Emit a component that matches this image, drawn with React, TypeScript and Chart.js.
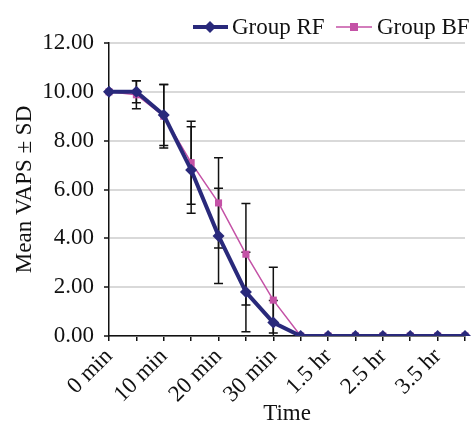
import React, { useEffect, useRef } from "react";
import { Chart, registerables } from "chart.js";

Chart.register(...registerables);

const categories = ["0 min", "5 min", "10 min", "15 min", "20 min", "25 min", "30 min", "1 hr", "1.5 hr", "2 hr", "2.5 hr", "3 hr", "3.5 hr", "4 hr"];
const groupRF = [10.0, 10.0, 9.05, 6.8, 4.1, 1.8, 0.55, 0, 0, 0, 0, 0, 0, 0];
const groupBF = [10.0, 9.88, 9.0, 7.1, 5.45, 3.35, 1.47, 0, 0, 0, 0, 0, 0, 0];
const sdRF = [0, 0.45, 1.25, 1.77, 1.95, 1.63, 0.9, 0, 0, 0, 0, 0, 0, 0];
const sdBF = [0, 0.57, 1.3, 1.7, 1.85, 2.08, 1.35, 0, 0, 0, 0, 0, 0, 0];
const yTicks = [0, 2, 4, 6, 8, 10, 12];

const NAVY = "#29297B";
const PINK = "#C452A6";
const FONT = "'Liberation Serif', 'Times New Roman', serif";

const errorBarPlugin = {
  id: "errorBars",
  beforeDatasetsDraw(chart: any) {
    const { ctx, chartArea, scales } = chart;
    const x = scales.x;
    const y = scales.y;
    const sets = [sdRF, sdBF];
    ctx.save();
    ctx.beginPath();
    ctx.rect(chartArea.left - 10, chartArea.top - 10, chartArea.right - chartArea.left + 20, chartArea.bottom - chartArea.top + 10);
    ctx.clip();
    ctx.strokeStyle = "#111";
    ctx.lineWidth = 1.5;
    chart.data.datasets.forEach((ds: any, di: number) => {
      const sd = sets[di];
      ds.data.forEach((v: number, i: number) => {
        const s = sd[i];
        if (!s) return;
        const px = x.getPixelForValue(i);
        const top = y.getPixelForValue(v + s);
        const bot = y.getPixelForValue(v - s);
        ctx.beginPath();
        ctx.moveTo(px, top);
        ctx.lineTo(px, bot);
        ctx.moveTo(px - 4.5, top);
        ctx.lineTo(px + 4.5, top);
        ctx.moveTo(px - 4.5, bot);
        ctx.lineTo(px + 4.5, bot);
        ctx.stroke();
      });
    });
    ctx.restore();
  },
};

const legendPlugin = {
  id: "customLegend",
  afterDraw(chart: any) {
    const { ctx } = chart;
    const yy = 27;
    ctx.save();
    ctx.font = `23px ${FONT}`;
    ctx.textBaseline = "middle";
    ctx.fillStyle = "#111";
    // RF
    ctx.strokeStyle = NAVY;
    ctx.lineWidth = 4;
    ctx.beginPath();
    ctx.moveTo(193, yy);
    ctx.lineTo(228, yy);
    ctx.stroke();
    ctx.fillStyle = NAVY;
    ctx.beginPath();
    ctx.moveTo(210, yy - 6);
    ctx.lineTo(216, yy);
    ctx.lineTo(210, yy + 6);
    ctx.lineTo(204, yy);
    ctx.closePath();
    ctx.fill();
    ctx.fillStyle = "#111";
    ctx.fillText(chart.data.datasets[0].label, 232, yy + 1);
    // BF
    ctx.strokeStyle = PINK;
    ctx.lineWidth = 1.5;
    ctx.beginPath();
    ctx.moveTo(336, yy);
    ctx.lineTo(372, yy);
    ctx.stroke();
    ctx.fillStyle = PINK;
    ctx.fillRect(350, yy - 4, 8, 8);
    ctx.fillStyle = "#111";
    ctx.fillText(chart.data.datasets[1].label, 377, yy + 1);
    ctx.restore();
  },
};

export default function App() {
  const ref = useRef<HTMLCanvasElement>(null);
  useEffect(() => {
    document.body.style.margin = "0";
    const chart = new Chart(ref.current!, {
      type: "line",
      data: {
        labels: categories,
        datasets: [
          {
            label: "Group RF",
            data: groupRF,
            borderColor: NAVY,
            backgroundColor: NAVY,
            borderWidth: 4,
            pointStyle: "rectRot",
            pointRadius: 6,
            pointBorderWidth: 0,
            tension: 0,
          },
          {
            label: "Group BF",
            data: groupBF,
            borderColor: PINK,
            backgroundColor: PINK,
            borderWidth: 1.5,
            pointStyle: "rect",
            pointRadius: 5,
            pointBorderWidth: 0,
            tension: 0,
          },
        ],
      },
      options: {
        responsive: false,
        animation: false,
        layout: { padding: { top: 43, right: 8, left: 0, bottom: 0 } },
        plugins: { legend: { display: false }, tooltip: { enabled: false } },
        scales: {
          x: {
            offset: false,
            afterFit: (s: any) => {
              s.height = 89;
              s.paddingLeft = 0;
              s.paddingRight = 0;
              s.paddingTop = 0;
              s.paddingBottom = 0;
            },
            grid: { display: true, drawOnChartArea: false, drawTicks: true, tickLength: 5, color: "#111", lineWidth: 1.5 },
            border: { color: "#111", width: 1.5 },
            ticks: {
              autoSkip: false,
              maxRotation: 45,
              minRotation: 45,
              padding: 2,
              color: "#111",
              font: { family: FONT, size: 23 },
              callback: (v: any, i: number) => (i % 2 === 0 ? categories[i] : ""),
            },
            title: { display: true, text: "Time", color: "#111", font: { family: FONT, size: 23, lineHeight: 1 }, padding: { top: 0, bottom: 0 } },
          },
          y: {
            min: 0,
            max: 12,
            afterFit: (s: any) => {
              s.width = 109;
              s.paddingTop = 0;
              s.paddingBottom = 0;
            },
            afterBuildTicks: (s: any) => { s.ticks = yTicks.map((v) => ({ value: v })); },
            grid: { color: "#D9D9D9", lineWidth: 2, tickColor: "#111", tickLength: 5, tickWidth: 1.5 },
            border: { color: "#111", width: 1.5 },
            ticks: {
              padding: 10,
              color: "#111",
              font: { family: FONT, size: 23 },
              callback: (v: any) => Number(v).toFixed(2),
            },
            title: { display: true, text: "Mean VAPS ± SD", color: "#111", font: { family: FONT, size: 23, lineHeight: 1 }, padding: { top: 13, bottom: 0 } },
          },
        },
      },
      plugins: [errorBarPlugin, legendPlugin],
    });
    return () => chart.destroy();
  }, []);
  return (
    <div style={{ position: "absolute", left: 0, top: 0, width: 473, height: 425, background: "#fff" }}>
      <canvas ref={ref} width={473} height={425} />
    </div>
  );
}
